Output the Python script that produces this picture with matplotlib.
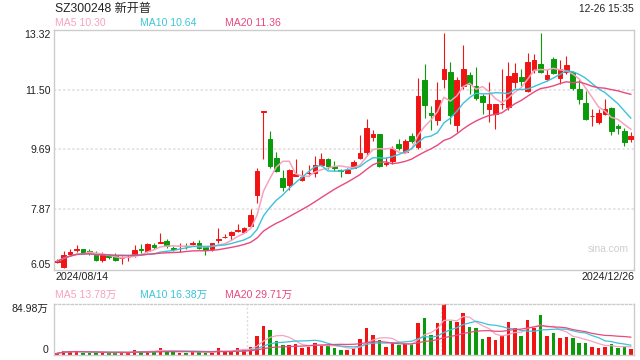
import matplotlib
matplotlib.use("Agg")
import matplotlib.pyplot as plt
import numpy as np
import pandas as pd

plt.rcParams['font.family'] = ['Liberation Sans', 'Noto Sans CJK SC']

# ---------------- data ----------------
opens = [6.29, 6.12, 6.53, 6.64, 6.66, 6.60, 6.53, 6.33, 6.46, 6.49,
         6.39, 6.42, 6.48, 6.67, 6.61, 6.78, 6.86, 6.90, 6.70, 6.75,
         6.77, 6.83, 6.84, 6.72, 6.66, 6.95, 7.02, 7.08, 7.23, 7.19,
         7.38, 8.32, 10.83, 10.01, 9.44, 8.83, 8.60, 8.88, 8.75, 8.97,
         8.96, 9.21, 9.40, 9.18, 9.05, 8.98, 9.13, 9.43, 9.60, 10.07,
         10.14, 9.26, 9.33, 9.84, 9.61, 10.10, 9.75, 11.80, 10.80, 10.59,
         11.83, 12.03, 10.44, 11.60, 11.93, 11.62, 11.32, 10.90, 10.75, 11.06,
         10.97, 11.73, 11.89, 11.47, 12.09, 12.29, 11.81, 12.43, 11.84, 12.03,
         12.03, 11.53, 11.10, 10.69, 10.51, 10.75, 10.95, 10.41, 10.26, 10.01]
highs = [6.37, 6.60, 6.66, 6.78, 6.68, 6.66, 6.61, 6.58, 6.53, 6.56,
         6.45, 6.50, 6.78, 6.81, 6.86, 6.86, 7.15, 6.96, 6.76, 6.84,
         6.84, 6.92, 6.95, 6.76, 6.86, 7.31, 7.13, 7.23, 7.43, 7.33,
         7.87, 9.11, 10.84, 10.24, 9.60, 9.05, 9.08, 9.40, 9.06, 9.21,
         9.48, 9.58, 9.43, 9.33, 9.08, 9.13, 9.38, 10.11, 10.61, 10.29,
         10.16, 9.45, 9.79, 9.99, 9.99, 10.19, 11.84, 12.26, 11.00, 11.74,
         13.20, 12.33, 11.87, 12.84, 12.03, 12.19, 11.38, 11.73, 11.07, 12.11,
         12.33, 12.31, 12.11, 12.61, 12.58, 13.20, 12.11, 12.49, 12.41, 12.53,
         12.06, 11.81, 11.45, 10.92, 10.90, 11.20, 10.98, 10.47, 10.34, 10.21]
lows = [6.25, 6.10, 6.46, 6.58, 6.54, 6.50, 6.30, 6.28, 6.38, 6.30,
        6.22, 6.30, 6.44, 6.56, 6.58, 6.68, 6.85, 6.71, 6.61, 6.59,
        6.68, 6.78, 6.66, 6.49, 6.61, 6.84, 7.00, 6.94, 7.20, 7.16,
        7.36, 8.07, 9.40, 9.11, 9.00, 8.42, 8.47, 8.88, 8.73, 8.88,
        8.86, 9.18, 9.08, 9.03, 8.85, 8.96, 9.11, 9.40, 9.48, 9.94,
        9.16, 9.18, 9.26, 9.68, 9.57, 9.87, 9.70, 10.65, 10.29, 10.43,
        11.55, 10.47, 10.23, 11.53, 11.37, 11.18, 10.75, 10.51, 10.31, 10.90,
        10.88, 11.55, 11.62, 11.42, 12.01, 12.01, 11.77, 11.96, 11.68, 11.96,
        11.50, 11.07, 10.57, 10.41, 10.47, 10.72, 10.11, 10.14, 9.79, 9.91]
closes = [6.30, 6.48, 6.59, 6.66, 6.56, 6.58, 6.33, 6.49, 6.44, 6.34,
          6.40, 6.43, 6.63, 6.64, 6.81, 6.72, 6.87, 6.75, 6.68, 6.76,
          6.75, 6.84, 6.69, 6.63, 6.84, 6.96, 7.03, 7.18, 7.24, 7.30,
          7.69, 9.03, 10.84, 9.18, 9.03, 8.55, 9.05, 8.93, 8.85, 8.98,
          9.21, 9.40, 9.18, 9.11, 9.03, 9.05, 9.31, 9.58, 10.34, 10.14,
          9.18, 9.27, 9.71, 9.72, 9.93, 9.93, 11.30, 11.02, 10.72, 11.17,
          12.13, 10.72, 11.80, 12.13, 11.67, 11.23, 11.12, 11.05, 11.05, 11.07,
          11.91, 12.01, 11.76, 12.33, 12.41, 12.03, 11.94, 12.01, 12.11, 12.25,
          11.55, 11.20, 10.62, 10.70, 10.80, 10.92, 10.24, 10.34, 9.91, 10.09]
volumes = [2.8, 6.7, 6.7, 6.7, 3.9, 3.9, 3.9, 3.9, 3.9, 3.9,
           3.9, 3.9, 8.4, 6.7, 6.7, 5.6, 11.2, 6.7, 6.7, 3.9,
           3.9, 5.6, 5.6, 3.9, 3.9, 11.2, 6.7, 6.7, 11.2, 10.1,
           14.0, 31.9, 48.6, 41.9, 23.5, 16.8, 16.8, 18.4, 12.3, 14.0,
           20.7, 15.6, 15.1, 11.7, 8.4, 8.4, 11.2, 26.8, 45.3, 33.5,
           25.2, 13.4, 20.7, 16.8, 18.4, 18.4, 53.7, 62.0, 33.5, 53.7,
           84.98, 57.0, 55.0, 70.4, 47.0, 45.3, 26.8, 30.2, 25.2, 31.9,
           55.3, 45.3, 31.9, 58.5, 45.3, 66.6, 31.9, 36.9, 28.5, 30.2,
           28.5, 20.6, 20.7, 13.4, 11.7, 13.4, 19.0, 11.7, 14.0, 10.8]
price_ticks = [6.05, 7.87, 9.69, 11.50, 13.32]
vol_max = 84.98
title = "SZ300248 新开普"
time_label = "12-26 15:35"
start_date = "2024/08/14"
end_date = "2024/12/26"

# ---------------- styling ----------------
RED = '#f01414'
GREEN = '#0a9a0a'
C5 = '#f7a3bf'
C10 = '#3cc3da'
C20 = '#e84a7c'
BORDER = '#cccccc'
GRID = '#dcdcdc'
TXT = '#222222'

o = np.array(opens); h = np.array(highs); l = np.array(lows); c = np.array(closes)
v = np.array(volumes)
x = np.arange(len(c))
up = c >= o
colors = np.where(up, RED, GREEN)

cs = pd.Series(c)
ma5 = cs.rolling(5, min_periods=1).mean()
ma10 = cs.rolling(10, min_periods=1).mean()
ma20 = cs.rolling(20, min_periods=1).mean()
vs = pd.Series(v)
vma5 = vs.rolling(5, min_periods=1).mean()
vma10 = vs.rolling(10, min_periods=1).mean()
vma20 = vs.rolling(20, min_periods=1).mean()

fig = plt.figure(figsize=(6.4, 3.6), dpi=100)
W, H = 640.0, 360.0
L, R = 54.0, 634.0

def ax_rect(top, bottom):
    return [L / W, 1 - bottom / H, (R - L) / W, (bottom - top) / H]

ax = fig.add_axes(ax_rect(29.5, 269.5))
axv = fig.add_axes(ax_rect(304.0, 355.0))

# ---- price panel ----
for yv in price_ticks[1:-1]:
    ax.axhline(yv, color=GRID, lw=1.1, dashes=(1.5, 1.5), zorder=0)
ax.vlines(x, l, h, colors=colors, lw=0.8, zorder=2)
body_bottom = np.minimum(o, c)
body_h = np.abs(c - o)
ax.bar(x, body_h, bottom=body_bottom, width=0.72, color=colors,
       edgecolor=colors, linewidth=0.7, zorder=3)
ax.plot(x, ma5, color=C5, lw=1.1, zorder=4)
ax.plot(x, ma10, color=C10, lw=1.0, zorder=4)
ax.plot(x, ma20, color=C20, lw=1.0, zorder=4)
ax.set_xlim(-0.5, len(c) - 0.5)
ax.set_ylim(price_ticks[0], price_ticks[-1])
ax.set_xticks([])
ax.set_yticks(price_ticks)
ax.set_yticklabels([f"{t:.2f}" for t in price_ticks], fontsize=7.6, color=TXT)
ax.tick_params(axis='y', length=0, pad=2.5)
labs = ax.get_yticklabels()
labs[0].set_va('bottom')
labs[-1].set_va('top')
for s in ax.spines.values():
    s.set_color(BORDER)
    s.set_linewidth(1.0)
ax.text(0.955, 0.085, "sina.com", transform=ax.transAxes, ha='center', va='center',
        fontsize=7.4, color='#cfcfcf')

# ---- volume panel ----
axv.bar(x, v, width=0.55, color=colors, linewidth=0, zorder=2)
axv.plot(x, vma5, color=C5, lw=0.9, zorder=3)
axv.plot(x, vma10, color=C10, lw=0.9, zorder=3)
axv.plot(x, vma20, color=C20, lw=0.9, zorder=3)
axv.set_xlim(-0.5, len(c) - 0.5)
axv.set_ylim(0, vol_max)
axv.set_xticks([])
axv.set_yticks([0, vol_max])
axv.set_yticklabels(["0", f"{vol_max:.2f}万"], fontsize=7.6, color=TXT)
axv.tick_params(axis='y', length=0, pad=4)
vl = axv.get_yticklabels()
vl[0].set_va('bottom')
vl[1].set_va('top')
for xf in (1 / 3, 2 / 3):
    axv.axvline(xf * (len(c)) - 0.5, color=GRID, lw=1.0, dashes=(1.5, 1.5), zorder=0)
for name, s in axv.spines.items():
    s.set_color(BORDER)
    s.set_linewidth(1.0)
axv.spines['top'].set_linestyle((0, (1.5, 1.5)))

# ---- texts ----
def ftext(px, py, s, **kw):
    fig.text(px / W, 1 - py / H, s, **kw)

ftext(55, 8.5, title, fontsize=8.7, color=TXT, ha='left', va='center')
ftext(634, 8.5, time_label, fontsize=7.4, color=TXT, ha='right', va='center')
ftext(55, 23.5, f"MA5 {ma5.iloc[-1]:.2f}", fontsize=7.6, color=C5, ha='left', va='center')
ftext(140.5, 23.5, f"MA10 {ma10.iloc[-1]:.2f}", fontsize=7.6, color=C10, ha='left', va='center')
ftext(225, 23.5, f"MA20 {ma20.iloc[-1]:.2f}", fontsize=7.6, color=C20, ha='left', va='center')
ftext(55, 277, start_date, fontsize=7.7, color=TXT, ha='left', va='center')
ftext(635, 277, end_date, fontsize=7.7, color=TXT, ha='right', va='center')
ftext(55, 295, f"MA5 {vma5.iloc[-1]:.2f}万", fontsize=7.6, color=C5, ha='left', va='center')
ftext(140.5, 295, f"MA10 {vma10.iloc[-1]:.2f}万", fontsize=7.6, color=C10, ha='left', va='center')
ftext(225, 295, f"MA20 {vma20.iloc[-1]:.2f}万", fontsize=7.6, color=C20, ha='left', va='center')

fig.savefig("out.png", dpi=100)
